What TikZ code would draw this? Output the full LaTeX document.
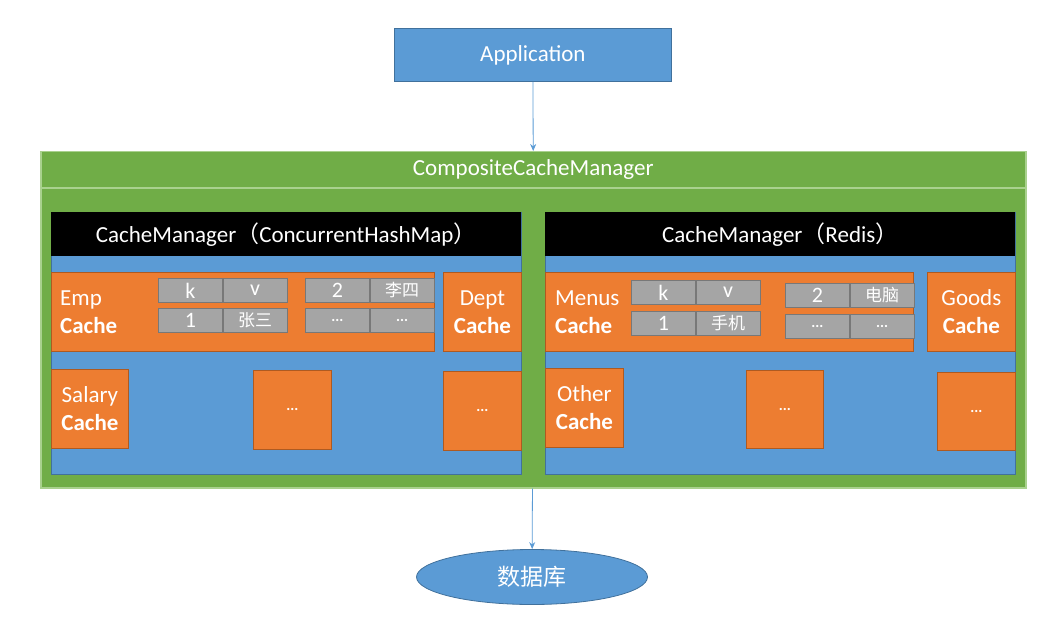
\documentclass[tikz,border=0pt]{standalone}
\usepackage{fontspec}
\setmainfont{Carlito}
\newfontfamily\cjk{Noto Sans CJK SC}
\usetikzlibrary{positioning, arrows.meta, shapes.geometric}
\definecolor{cB}{RGB}{91,155,213}
\definecolor{cBd}{RGB}{65,113,156}
\definecolor{cO}{RGB}{237,125,49}
\definecolor{cOd}{RGB}{174,90,33}
\definecolor{cG}{RGB}{112,173,71}
\definecolor{cGl}{RGB}{169,209,142}
\definecolor{cY}{RGB}{165,165,165}
\definecolor{cYd}{RGB}{120,120,120}

\begin{document}
\begin{tikzpicture}[x=1pt, y=-1pt, >={Stealth[length=7pt, width=6pt]},
    every node/.style={text=white, inner sep=0pt, font=\fontsize{23}{28}\selectfont},
    sz/.style 2 args={minimum width=#1, minimum height=#2},
    blue/.style={rectangle, anchor=north west, fill=cB, draw=cBd, line width=0.8pt},
    green/.style={rectangle, anchor=north west, fill=cG, draw=cGl, line width=1.5pt},
    mgr/.style={rectangle, anchor=north west, fill=black},
    cache/.style={rectangle, anchor=north west, fill=cO, draw=cOd, line width=0.8pt, align=center},
    cell/.style={rectangle, fill=cY, draw=cYd, line width=0.8pt, minimum width=64, minimum height=24, font=\fontsize{22}{24}\selectfont},
    zh/.style={font=\cjk\fontsize{17}{20}\selectfont},
    dots/.style={font=\bfseries\fontsize{15}{18}\selectfont},
    link/.style={->, draw=cB, line width=0.8pt}]
    \useasboundingbox (0,0) rectangle (1060,623);

    % Application and database
    \node[blue, sz={277}{53}] (app) at (394,28) {Application};
    \node[ellipse, fill=cB, draw=cBd, line width=0.8pt, sz={231}{55}, font=\cjk\fontsize{23}{26}\selectfont] (db) at (532,577) {数据库};

    % CompositeCacheManager
    \node[green, sz={985}{36}] (ccmh) at (40,151) {CompositeCacheManager};
    \node[green, sz={985}{300}] (ccm) at (40,187) {};

    % left CacheManager
    \node[blue, sz={470}{262}] (lbody) at (51,212) {};
    \node[mgr, sz={470}{44}] (lmgr) at (51,212) {CacheManager{\cjk （}ConcurrentHashMap{\cjk ）}};
    \node[cache, sz={383}{79}] (emp) at (51,272) {};
    \node[align=left, anchor=west] (empt) at ([xshift=9]emp.west) {Emp\\\textbf{Cache}};
    \node[cell, anchor=north west] (k1) at (158,278) {k};
    \node[cell, right=0pt of k1] (v1) {v};
    \node[cell, below=5pt of k1] (r1k) {1};
    \node[cell, zh, right=0pt of r1k] (r1v) {张三};
    \node[cell, anchor=north west] (r2k) at (305,278) {2};
    \node[cell, zh, right=0pt of r2k] (r2v) {李四};
    \node[cell, dots, below=5pt of r2k] (r3k) {...};
    \node[cell, dots, right=0pt of r3k] (r3v) {...};
    \node[cache, sz={78}{79}] (dept) at (443,272) {Dept\\\textbf{Cache}};
    \node[cache, sz={77}{79}] (salary) at (51,369) {Salary\\\textbf{Cache}};
    \node[cache, sz={78}{79}, dots] (lmore1) at (253,370) {...};
    \node[cache, sz={78}{79}, dots] (lmore2) at (443,371) {...};

    % right CacheManager
    \node[blue, sz={470}{262}] (rbody) at (545,212) {};
    \node[mgr, sz={470}{44}] (rmgr) at (545,212) {CacheManager{\cjk （}Redis{\cjk ）}};
    \node[cache, sz={368}{79}] (menus) at (545,272) {};
    \node[align=left, anchor=west] (menust) at ([xshift=10]menus.west) {Menus\\\textbf{Cache}};
    \node[cell, anchor=north west] (k2) at (631,280) {k};
    \node[cell, right=0pt of k2] (v2) {v};
    \node[cell, below=6pt of k2] (s1k) {1};
    \node[cell, zh, right=0pt of s1k] (s1v) {手机};
    \node[cell, anchor=north west] (s2k) at (785,283) {2};
    \node[cell, zh, right=0pt of s2k] (s2v) {电脑};
    \node[cell, dots, below=6pt of s2k] (s3k) {...};
    \node[cell, dots, right=0pt of s3k] (s3v) {...};
    \node[cache, sz={88}{79}] (goods) at (927,272) {Goods\\\textbf{Cache}};
    \node[cache, sz={78}{79}] (other) at (545,368) {Other\\\textbf{Cache}};
    \node[cache, sz={77}{78}, dots] (rmore1) at (746,370) {...};
    \node[cache, sz={78}{78}, dots] (rmore2) at (937,372) {...};

    % calls
    \draw[link] (app) -- (ccmh);
    \draw[link] (ccm) -- (db);
\end{tikzpicture}
\end{document}
